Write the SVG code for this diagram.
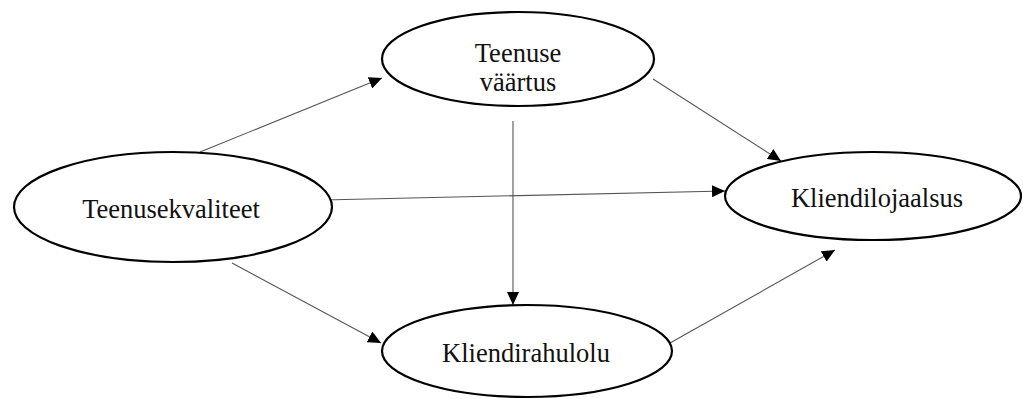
<svg xmlns="http://www.w3.org/2000/svg" width="1023" height="399" viewBox="0 0 1023 399">
<style>
.node ellipse{fill:#fff;stroke:#000;stroke-width:2.2}
.node text{font-family:"Liberation Serif","Times New Roman",serif;font-size:26.5px;fill:#111;text-anchor:middle}
#connectors line{stroke:#555;stroke-width:1.1;marker-end:url(#ah)}
</style>
<defs>
<marker id="ah" markerUnits="userSpaceOnUse" markerWidth="14" markerHeight="12" refX="13" refY="6" orient="auto">
<path d="M0,0 L13,6 L0,12 Z" fill="#000"/>
</marker>
</defs>
<rect width="1023" height="399" fill="#fff"/>
<g id="connectors">
<line x1="200" y1="152" x2="382" y2="78"/>
<line x1="323" y1="200" x2="725" y2="191"/>
<line x1="232" y1="263" x2="381" y2="343"/>
<line x1="513" y1="121" x2="513" y2="305"/>
<line x1="653" y1="79" x2="781" y2="161"/>
<line x1="670" y1="343" x2="835" y2="250"/>
</g>
<g id="teenusekvaliteet" class="node">
<ellipse cx="173" cy="207" rx="159" ry="55"/>
<text x="171" y="218">Teenusekvaliteet</text>
</g>
<g id="teenuse-vaartus" class="node">
<ellipse cx="518" cy="59" rx="136" ry="47"/>
<text x="518" y="62">Teenuse</text>
<text x="518" y="91">väärtus</text>
</g>
<g id="kliendilojaalsus" class="node">
<ellipse cx="873" cy="196" rx="148" ry="44"/>
<text x="877" y="207">Kliendilojaalsus</text>
</g>
<g id="kliendirahulolu" class="node">
<ellipse cx="527" cy="351" rx="145" ry="46"/>
<text x="526" y="362">Kliendirahulolu</text>
</g>
</svg>
